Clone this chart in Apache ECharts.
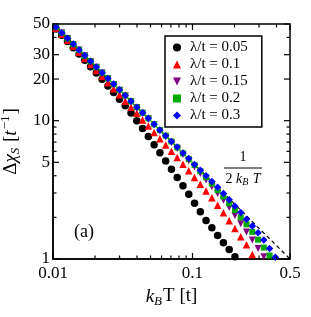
<!DOCTYPE html>
<html><head><meta charset="utf-8">
<script src="https://cdn.jsdelivr.net/npm/echarts@6/dist/echarts.min.js"></script>
<style>html,body{margin:0;padding:0;background:#fff}#c{width:311px;height:317px}</style>
</head><body><div id="c"></div>
<script>
// temperatures k_B T [t]
const temps = [0.0105, 0.01155, 0.0127, 0.01398, 0.01537, 0.01691, 0.0186, 0.02046, 0.02251, 0.02476,
  0.02723, 0.02996, 0.03295, 0.03625, 0.03987, 0.04386, 0.04825, 0.05307, 0.05838, 0.06422,
  0.07064, 0.0777, 0.08547, 0.09402, 0.1034, 0.1138, 0.1251, 0.1377, 0.1514, 0.1666,
  0.1832, 0.2015, 0.2217, 0.2439, 0.2683, 0.2951, 0.3246, 0.357, 0.3928];
const chi005 = [46.1,41.5,37.4,33.7,30.3,27.3,24.5,22.1,19.9,17.8,16.0,14.3,12.8,11.35,10.0,8.77,7.67,6.71,5.87,5.12,4.46,3.88,3.38,2.94,2.53,2.20,1.90,1.68,1.48,1.31,1.17,1.04];
const chi01 = [46.6,42.2,38.1,34.5,31.2,28.2,25.6,23.1,20.9,18.8,17.0,15.4,13.8,12.5,11.3,10.1,9.14,8.22,7.41,6.68,6.01,5.41,4.84,4.35,3.89,3.47,3.10,2.77,2.45,2.16,1.89,1.66,1.45,1.27,1.08];
const chi015 = [47.4,43.1,39.2,35.6,32.4,29.5,26.8,24.3,22.1,20.1,18.3,16.6,15.1,13.7,12.4,11.3,10.3,9.33,8.46,7.68,6.95,6.29,5.69,5.14,4.62,4.15,3.73,3.33,2.98,2.66,2.36,2.06,1.80,1.57,1.37,1.19,1.04];
const chi02 = [47.5,43.2,39.3,35.7,32.5,29.5,26.9,24.4,22.2,20.2,18.4,16.7,15.2,13.8,12.5,11.4,10.4,9.42,8.56,7.79,7.08,6.41,5.81,5.27,4.78,4.32,3.90,3.51,3.15,2.83,2.53,2.26,2.00,1.78,1.57,1.38,1.21,1.06];
const chi03 = [47.6,43.3,39.4,35.8,32.5,29.6,26.9,24.4,22.2,20.2,18.4,16.7,15.2,13.8,12.5,11.4,10.4,9.42,8.56,7.79,7.08,6.44,5.85,5.32,4.83,4.39,4.00,3.63,3.30,2.97,2.68,2.41,2.17,1.94,1.73,1.545,1.37,1.19,1.03];
const seriesNames = ['λ/t = 0.05', 'λ/t = 0.1', 'λ/t = 0.15', 'λ/t = 0.2', 'λ/t = 0.3'];
// reference curve 1/(2 k_B T)
const refT = [0.01, 0.5];
const refChi = [50, 1];
// axis ticks and labels
const xLabelValues = [0.01, 0.1, 0.5];
const yLabelValues = [1, 5, 10, 20, 30, 50];
const xTickValues = [0.01,0.02,0.03,0.04,0.05,0.06,0.07,0.08,0.09,0.1,0.2,0.3,0.4,0.5];
const yTickValues = [1,2,3,4,5,6,7,8,9,10,20,30,40,50];
const xLongTicks = [0.01, 0.1, 0.5];
const yLongTicks = [1, 5, 10, 20, 30, 50];

const FONT = 'Liberation Serif';
const chart = echarts.init(document.getElementById('c'), null, {renderer: 'canvas'});
function pairs(vals) { return vals.map((v, i) => [temps[i], v]); }
function tickSeries(values, isX) {
  return {
    type: 'custom', silent: true, z: 5, clip: false,
    data: values.map(v => isX ? [v, 1] : [0.01, v]),
    renderItem: (params, api) => {
      const v = api.value(isX ? 0 : 1);
      const long = (isX ? xLongTicks : yLongTicks).indexOf(v) >= 0;
      const len = long ? 6 : 3.5;
      const style = {stroke: '#000', lineWidth: 1.2};
      let a, b, kids;
      if (isX) {
        a = api.coord([v, 1]); b = api.coord([v, 50]);
        kids = [
          {type: 'line', shape: {x1: a[0], y1: a[1], x2: a[0], y2: a[1] - len}, style},
          {type: 'line', shape: {x1: b[0], y1: b[1], x2: b[0], y2: b[1] + len}, style}];
      } else {
        a = api.coord([0.01, v]); b = api.coord([0.5, v]);
        kids = [
          {type: 'line', shape: {x1: a[0], y1: a[1], x2: a[0] + len, y2: a[1]}, style},
          {type: 'line', shape: {x1: b[0], y1: b[1], x2: b[0] - len, y2: b[1]}, style}];
      }
      return {type: 'group', children: kids};
    }
  };
}
const labelStyle = {color: '#000', fontFamily: FONT, fontSize: 17};
const option = {
  animation: false,
  backgroundColor: '#fff',
  grid: {left: 53, right: 21, top: 24, bottom: 58, show: true, borderColor: '#000', borderWidth: 1.5, outerBoundsMode: 'none', containLabel: false},
  xAxis: {
    type: 'log', logBase: 10, min: 0.01, max: 0.5,
    axisLine: {show: true, lineStyle: {color: '#000', width: 1.5}},
    axisTick: {show: false}, splitLine: {show: false}, minorTick: {show: false},
    axisLabel: Object.assign({customValues: xLabelValues, margin: 6, formatter: v => String(v)}, labelStyle),
    name: '{i|k}{s|B}{n|T [t]}', nameLocation: 'middle', nameGap: 26,
    nameTextStyle: {fontFamily: FONT, color: '#000', rich: {
      i: {fontFamily: FONT, fontSize: 19, fontStyle: 'italic', color: '#000'},
      s: {fontFamily: FONT, fontSize: 13, fontStyle: 'italic', color: '#000', padding: [10, 1, 0, 0]},
      n: {fontFamily: FONT, fontSize: 19, color: '#000'}}}
  },
  yAxis: {
    type: 'log', logBase: 10, min: 1, max: 50,
    axisLine: {show: true, lineStyle: {color: '#000', width: 1.5}},
    axisTick: {show: false}, splitLine: {show: false}, minorTick: {show: false},
    axisLabel: Object.assign({customValues: yLabelValues, margin: 3, formatter: v => String(v)}, labelStyle),
    name: '{n|Δ}{i|χ}{s|S}{n| [}{i|t}{p|−1}{n|]}', nameLocation: 'middle', nameGap: 27, nameRotate: 90,
    nameTextStyle: {fontFamily: FONT, color: '#000', rich: {
      i: {fontFamily: FONT, fontSize: 19, fontStyle: 'italic', color: '#000'},
      s: {fontFamily: FONT, fontSize: 13, fontStyle: 'italic', color: '#000', padding: [10, 1, 0, 0]},
      p: {fontFamily: FONT, fontSize: 13, color: '#000', padding: [0, 1, 10, 1]},
      n: {fontFamily: FONT, fontSize: 19, color: '#000'}}}
  },
  legend: {
    orient: 'vertical', left: 165, top: 36, selectedMode: false,
    borderColor: '#000', borderWidth: 1.5, padding: [4, 14, 4, 8], itemGap: 2,
    itemWidth: 8, itemHeight: 8,
    textStyle: {fontFamily: FONT, fontSize: 15, color: '#000', padding: [0, 0, 0, 4]},
    data: [
      {name: seriesNames[0], icon: 'circle'},
      {name: seriesNames[1], icon: 'triangle'},
      {name: seriesNames[2], icon: 'path://M0,0L10,0L5,10Z'},
      {name: seriesNames[3], icon: 'rect'},
      {name: seriesNames[4], icon: 'diamond'}]
  },
  graphic: [
    {type: 'text', x: 243, y: 157, style: {text: '1', fontFamily: FONT, fontSize: 14, fill: '#000', textAlign: 'center', textVerticalAlign: 'middle'}},
    {type: 'line', shape: {x1: 224, y1: 168, x2: 262, y2: 168}, style: {stroke: '#000', lineWidth: 1}},
    {type: 'text', x: 243, y: 179, style: {text: '{n|2 }{i|k}{s|B}{i| T}', textAlign: 'center', textVerticalAlign: 'middle', fill: '#000',
      rich: {n: {fontFamily: FONT, fontSize: 14, fill: '#000'}, i: {fontFamily: FONT, fontSize: 14, fontStyle: 'italic', fill: '#000'},
             s: {fontFamily: FONT, fontSize: 10, fontStyle: 'italic', fill: '#000', padding: [7, 1, 0, 0]}}}},
    {type: 'text', x: 84, y: 232, style: {text: '(a)', fontFamily: FONT, fontSize: 18, fill: '#000', textAlign: 'center', textVerticalAlign: 'middle'}}
  ],
  series: [
    {type: 'line', data: refT.map((t, i) => [t, refChi[i]]), symbol: 'none', silent: true, z: 1,
     lineStyle: {color: '#000', width: 1.2, type: [4, 3]}},
    {name: seriesNames[0], type: 'scatter', data: pairs(chi005), symbol: 'circle', symbolSize: 7.5, itemStyle: {color: '#000', opacity: 1}, z: 2},
    {name: seriesNames[1], type: 'scatter', data: pairs(chi01), symbol: 'triangle', symbolSize: 7.5, itemStyle: {color: '#ff0000', opacity: 1}, z: 2},
    {name: seriesNames[2], type: 'scatter', data: pairs(chi015), symbol: 'triangle', symbolRotate: 180, symbolSize: 7, itemStyle: {color: '#800080', opacity: 1}, z: 2},
    {name: seriesNames[3], type: 'scatter', data: pairs(chi02), symbol: 'rect', symbolSize: 6, itemStyle: {color: '#00aa00', opacity: 1}, z: 2},
    {name: seriesNames[4], type: 'scatter', data: pairs(chi03), symbol: 'diamond', symbolSize: 7.5, itemStyle: {color: '#0000ff', opacity: 1}, z: 2},
    tickSeries(xTickValues, true),
    tickSeries(yTickValues, false)
  ]
};
chart.setOption(option);
</script></body></html>
